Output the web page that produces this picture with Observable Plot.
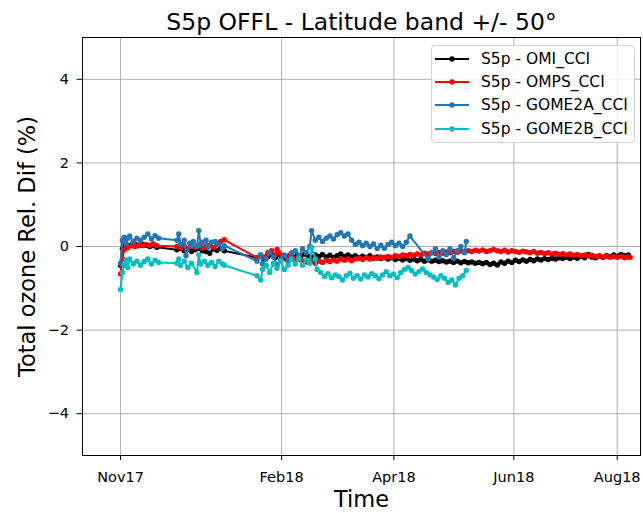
<!DOCTYPE html>
<html><head><meta charset="utf-8">
<script src="https://cdn.jsdelivr.net/npm/d3@7"></script>
<script src="https://cdn.jsdelivr.net/npm/@observablehq/plot@0.6"></script>
<style>
body{margin:0;background:#fff;font-family:"DejaVu Sans",sans-serif;}
#wrap{position:relative;width:643px;height:513px;}
#legend{position:absolute;left:431px;top:45px;width:204px;height:98px;box-sizing:border-box;border:1px solid #d3d3d3;border-radius:4px;background:rgba(255,255,255,0.8);}
.row{position:absolute;left:0;height:20px;display:flex;align-items:center;font-size:15.5px;color:#000;white-space:nowrap;}
.row svg{margin-left:3px;margin-right:12px;}
</style></head><body><div id="wrap"></div>
<script>
const title = "S5p OFFL - Latitude band +/- 50°";
const xLabel = "Time";
const yLabel = "Total ozone Rel. Dif (%)";
const startDate = "2017-11-01";
const seriesNames = ["S5p - OMI_CCI", "S5p - OMPS_CCI", "S5p - GOME2A_CCI", "S5p - GOME2B_CCI"];
const seriesColors = ["#000000", "#ff0000", "#1f77b4", "#00bfbf"];
const xTickDays = [0, 88.5, 150.2, 216.1, 272.9];
const xTickLabels = ["Nov17", "Feb18", "Apr18", "Jun18", "Aug18"];
const xDomainDays = [-20.9, 285.7];
const yTicks = [-4, -2, 0, 2, 4];
const yDomain = [-5, 5];

// [days since 2017-11-01, relative difference %]
const omi = [[0,-0.45],[1,-0.05],[2,0.02],[3,0.05],[4,0.0],[6,0.04],[8,0.06],[10,0.02],[12,0.05],[14,0.03],[16,0.0],[18,0.02],[20,-0.02],
[31,-0.08],[33,-0.05],[35,-0.1],[37,-0.07],[39,-0.12],[41,-0.08],[43,-0.05],[45,-0.1],[47,-0.12],[49,-0.16],[51,-0.06],[53,-0.09],[55,-0.05],[57,-0.1],
[75,-0.27],[77,-0.22],[79,-0.3],[81,-0.24],[83,-0.19],[85,-0.27],[87,-0.2],[89,-0.26],[91,-0.3],[93,-0.22],[95,-0.27],[97,-0.2],[99,-0.24],[101,-0.18],[103,-0.23],[105,-0.26],[107,-0.2],[109,-0.24],[111,-0.19],[113,-0.25],[115,-0.21],[117,-0.26],[119,-0.22],[121,-0.18],[123,-0.24],[125,-0.2],[127,-0.25],[129,-0.22],[131,-0.27],[133,-0.23],[135,-0.26],[137,-0.22],[139,-0.28],[141,-0.25],[143,-0.29],[145,-0.26],[147,-0.3],[149,-0.27],[151,-0.31],[153,-0.28],[155,-0.32],[157,-0.29],[159,-0.33],[161,-0.3],[163,-0.34],[165,-0.31],[167,-0.35],[169,-0.32],[171,-0.35],[173,-0.33],[175,-0.36],[177,-0.34],[179,-0.37],[181,-0.35],[183,-0.38],[185,-0.35],[187,-0.39],[189,-0.36],[191,-0.39],[193,-0.37],[195,-0.4],[197,-0.38],[199,-0.41],[201,-0.38],[203,-0.43],[205,-0.4],[207,-0.44],[209,-0.37],[211,-0.4],[213,-0.35],[215,-0.38],[217,-0.33],[219,-0.36],[221,-0.32],[223,-0.35],[225,-0.31],[227,-0.34],[229,-0.3],[231,-0.32],[233,-0.29],[235,-0.31],[237,-0.28],[239,-0.3],[241,-0.27],[243,-0.29],[245,-0.26],[247,-0.29],[249,-0.25],[251,-0.28],[253,-0.24],[255,-0.27],[257,-0.19],[259,-0.25],[261,-0.27],[263,-0.23],[265,-0.26],[267,-0.22],[269,-0.24],[271,-0.2],[273,-0.23],[275,-0.19],[277,-0.22],[279,-0.2]];

const omps = [[0,-0.65],[1,-0.3],[2,-0.08],[3,0.0],[4,-0.03],[6,0.02],[8,0.0],[10,0.04],[12,0.02],[14,0.05],[16,0.03],[18,0.06],[20,0.02],
[31,0.0],[33,-0.03],[35,0.02],[37,-0.05],[39,0.0],[41,-0.02],[43,0.03],[45,-0.04],[47,0.0],[49,0.03],[51,-0.02],[53,0.05],[55,0.12],[57,0.16],
[75,-0.27],[77,-0.2],[79,-0.25],[81,-0.15],[83,-0.1],[85,-0.2],[86,-0.07],[87,-0.15],[89,-0.22],[91,-0.25],[93,-0.2],[95,-0.28],[97,-0.3],[99,-0.32],[101,-0.35],[103,-0.38],[105,-0.36],[107,-0.4],[109,-0.35],[111,-0.38],[113,-0.33],[115,-0.36],[117,-0.32],[119,-0.35],[121,-0.3],[123,-0.33],[125,-0.3],[127,-0.34],[129,-0.3],[131,-0.28],[133,-0.31],[135,-0.27],[137,-0.3],[139,-0.26],[141,-0.28],[143,-0.25],[145,-0.27],[147,-0.24],[149,-0.26],[151,-0.22],[153,-0.24],[155,-0.2],[157,-0.22],[159,-0.19],[161,-0.21],[163,-0.18],[165,-0.2],[167,-0.16],[169,-0.18],[171,-0.15],[173,-0.17],[175,-0.14],[177,-0.16],[179,-0.13],[181,-0.15],[183,-0.12],[185,-0.14],[187,-0.11],[189,-0.13],[191,-0.1],[193,-0.12],[195,-0.09],[197,-0.11],[199,-0.08],[201,-0.12],[203,-0.1],[205,-0.07],[207,-0.1],[209,-0.12],[211,-0.09],[213,-0.13],[215,-0.1],[217,-0.12],[219,-0.14],[221,-0.11],[223,-0.13],[225,-0.15],[227,-0.12],[229,-0.16],[231,-0.14],[233,-0.17],[235,-0.15],[237,-0.18],[239,-0.16],[241,-0.19],[243,-0.17],[245,-0.2],[247,-0.18],[249,-0.21],[251,-0.19],[253,-0.22],[255,-0.2],[257,-0.23],[259,-0.21],[261,-0.24],[263,-0.22],[265,-0.25],[267,-0.23],[269,-0.26],[271,-0.24],[273,-0.26],[275,-0.23],[277,-0.27],[279,-0.25],[280,-0.26]];

const gome2a = [[0,-0.4],[1,0.15],[2,0.22],[3,0.08],[4,0.2],[5,0.25],[7,0.12],[9,0.2],[11,0.15],[13,0.22],[15,0.3],[17,0.18],[19,0.26],[21,0.2],
[31,0.15],[32,0.3],[33,0.05],[35,0.15],[36,-0.22],[38,0.08],[39,0.02],[40,0.12],[42,0.0],[43,0.38],[44,0.05],[45,0.1],[47,0.15],[48,-0.02],[50,0.1],[52,0.12],[54,0.05],[56,-0.05],[57,0.02],
[75,-0.35],[77,-0.2],[78,-0.42],[80,-0.3],[82,-0.15],[84,-0.25],[86,-0.45],[88,-0.3],[90,-0.2],[92,-0.35],[94,-0.15],[96,-0.1],[98,-0.22],[100,-0.05],[102,-0.15],[104,0.0],[105,0.38],[107,0.15],[109,0.22],[111,0.12],[113,0.2],[115,0.25],[117,0.18],[119,0.28],[121,0.33],[123,0.25],[125,0.3],[127,0.15],[129,0.05],[131,0.1],[133,0.02],[135,0.08],[137,0.0],[139,0.06],[141,-0.05],[143,0.03],[145,-0.04],[147,0.05],[149,0.1],[151,0.02],[153,0.08],[155,0.0],[157,0.1],[159,0.25],[169,-0.3],[171,-0.15],[173,-0.05],[175,-0.25],[177,-0.1],[179,-0.2],[181,-0.05],[183,-0.28],[185,-0.1],[187,0.0],[189,-0.15],[190,0.12]];

const gome2b = [[0,-1.03],[1,-0.62],[2,-0.45],[3,-0.32],[4,-0.5],[5,-0.3],[7,-0.42],[9,-0.35],[11,-0.45],[13,-0.36],[15,-0.3],[17,-0.42],[19,-0.33],[21,-0.38],
[31,-0.4],[32,-0.3],[33,-0.45],[35,-0.35],[37,-0.5],[39,-0.4],[42,-0.62],[43,-0.2],[44,-0.42],[46,-0.35],[48,-0.45],[50,-0.38],[52,-0.48],[54,-0.35],[56,-0.42],[57,-0.45],
[75,-0.7],[77,-0.8],[78,-0.55],[80,-0.45],[82,-0.62],[84,-0.4],[86,-0.52],[88,-0.35],[90,-0.55],[92,-0.45],[94,-0.3],[96,-0.42],[98,-0.28],[100,-0.45],[102,-0.32],[104,-0.4],[105,-0.02],[107,-0.3],[108,-0.55],[110,-0.62],[112,-0.72],[114,-0.65],[116,-0.75],[118,-0.68],[120,-0.72],[122,-0.8],[124,-0.7],[126,-0.64],[128,-0.76],[130,-0.7],[132,-0.78],[134,-0.68],[136,-0.73],[138,-0.65],[140,-0.7],[142,-0.77],[144,-0.68],[146,-0.6],[148,-0.7],[150,-0.66],[152,-0.75],[154,-0.62],[156,-0.55],[158,-0.5],[160,-0.58],[162,-0.66],[164,-0.6],[166,-0.54],[168,-0.62],[170,-0.68],[172,-0.73],[174,-0.79],[176,-0.7],[178,-0.76],[180,-0.86],[182,-0.8],[184,-0.92],[186,-0.76],[188,-0.7],[190,-0.57]];

const seriesData = [omi, omps, gome2a, gome2b];

const t0 = Date.parse(startDate + "T00:00:00Z");
const toDate = d => new Date(t0 + d * 864e5);
const tickDates = xTickDays.map(toDate);
const labelMap = new Map(tickDates.map((d, i) => [+d, xTickLabels[i]]));

const seriesMarks = seriesData.flatMap((data, i) => [
  Plot.line(data, {x: d => toDate(d[0]), y: d => d[1], stroke: seriesColors[i], strokeWidth: 2}),
  Plot.dot(data, {x: d => toDate(d[0]), y: d => d[1], r: 2.7, fill: seriesColors[i], stroke: "none"})
]);

const chart = Plot.plot({
  width: 643, height: 513,
  marginLeft: 82, marginRight: 3, marginTop: 37, marginBottom: 58,
  style: {fontFamily: "DejaVu Sans, sans-serif", fontSize: "14.5px", color: "#000", background: "#fff", overflow: "visible"},
  x: {type: "utc", domain: xDomainDays.map(toDate)},
  y: {domain: yDomain},
  marks: [
    Plot.gridX({ticks: tickDates, stroke: "#b0b0b0", strokeOpacity: 1, strokeWidth: 1}),
    Plot.gridY({ticks: yTicks, stroke: "#b0b0b0", strokeOpacity: 1, strokeWidth: 1}),
    ...seriesMarks,
    Plot.frame({stroke: "#000", strokeWidth: 1}),
    Plot.axisX({ticks: tickDates, tickFormat: d => labelMap.get(+d), tickSize: 5, tickPadding: 11, label: null}),
    Plot.axisY({ticks: yTicks, tickSize: 5.5, tickPadding: 8, label: null}),
    Plot.text([title], {text: d => d, frameAnchor: "top", textAnchor: "middle", lineAnchor: "bottom", dy: -8, fontSize: 23.5}),
    Plot.text([xLabel], {text: d => d, frameAnchor: "bottom", textAnchor: "middle", lineAnchor: "bottom", dy: 51, fontSize: 22.5}),
    Plot.text([yLabel], {text: d => d, frameAnchor: "left", textAnchor: "middle", lineAnchor: "bottom", rotate: -90, dx: -48, fontSize: 22.5})
  ]
});

const wrap = document.getElementById("wrap");
wrap.appendChild(chart);

const legend = document.createElement("div");
legend.id = "legend";
seriesNames.forEach((name, i) => {
  const row = document.createElement("div");
  row.className = "row";
  row.style.top = (2.5 + i * 23.4) + "px";
  const c = seriesColors[i];
  row.innerHTML = `<svg width="34" height="20"><line x1="0" y1="10" x2="34" y2="10" stroke="${c}" stroke-width="2"/><circle cx="17" cy="10" r="2.7" fill="${c}"/></svg><span>${name}</span>`;
  legend.appendChild(row);
});
wrap.appendChild(legend);
</script>
</body></html>
